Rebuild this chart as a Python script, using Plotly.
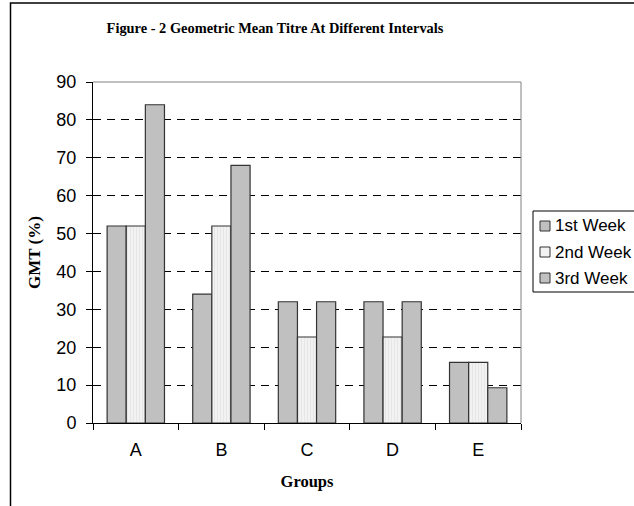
import plotly.graph_objects as go

groups = ["A", "B", "C", "D", "E"]
week1 = [52, 34, 32, 32, 16]
week2 = [52, 52, 22.7, 22.7, 16]
week3 = [84, 68, 32, 32, 9.3]
series_names = ["1st Week", "2nd Week", "3rd Week"]

L, R, T, B, W, H = 93, 521, 82, 423, 634, 506
pw, ph = R - L, B - T

fig = go.Figure()
fills = ["#C0C0C0", "#F2F2F2", "#C0C0C0"]
styles = [
    dict(color=fills[0]),
    dict(color=fills[1], pattern=dict(shape="|", fgcolor="#D8D8D8", bgcolor=fills[1], size=3, solidity=0.3)),
    dict(color=fills[2]),
]
for name, vals, st in zip(series_names, [week1, week2, week3], styles):
    fig.add_trace(go.Bar(x=groups, y=vals, name=name, showlegend=False,
                         marker=dict(**st, line=dict(color="#333333", width=1.2))))

fig.update_layout(
    width=W, height=H,
    margin=dict(l=L, r=W - R, t=T, b=H - B, autoexpand=False),
    paper_bgcolor="white", plot_bgcolor="white",
    barmode="group", bargap=0.33, bargroupgap=0,
    title=dict(text="<b>Figure - 2 Geometric Mean Titre At Different Intervals</b>",
               font=dict(family="Liberation Serif", size=14.4, color="black"),
               x=275 / W, xanchor="center", y=1 - 28 / H, yanchor="middle"),
    font=dict(family="Liberation Sans", size=18, color="black"),
    showlegend=False,
)
fig.update_xaxes(
    showline=True, linecolor="black", linewidth=1, mirror=False,
    ticks="outside", tickson="boundaries", ticklen=6, tickcolor="black",
    ticklabelstandoff=10,
    tickfont=dict(size=18),
    title=dict(text="<b>Groups</b>", font=dict(family="Liberation Serif", size=16.5), standoff=16),
    showgrid=False,
)
fig.update_yaxes(
    range=[0, 90], dtick=10, showline=True, linecolor="black", linewidth=1,
    ticks="outside", ticklen=6, tickcolor="black", ticklabelstandoff=6,
    tickfont=dict(size=18),
    showgrid=True, gridcolor="black", griddash="8px,6px", gridwidth=1,
    title=dict(text="<b>GMT (%)</b>", font=dict(family="Liberation Serif", size=17), standoff=11),
    zeroline=False,
)
# plot border top/right in gray
fig.add_shape(type="line", xref="paper", yref="paper", x0=0, x1=1, y0=1, y1=1,
              line=dict(color="#808080", width=1))
fig.add_shape(type="line", xref="paper", yref="paper", x0=1, x1=1, y0=0, y1=1,
              line=dict(color="#808080", width=1))
# outer chart frame
fig.add_shape(type="rect", xref="paper", yref="paper",
              x0=(10.5 - L) / pw, x1=(W + 20 - L) / pw, y0=(B - H - 20) / ph, y1=(B - 3) / ph,
              line=dict(color="black", width=1.5), layer="below")

# legend box (drawn manually to match compact layout)
def px(x):
    return (x - L) / pw

def py(y):
    return (B - y) / ph

fig.add_shape(type="rect", xref="paper", yref="paper",
              x0=px(533), x1=px(W + 10), y0=py(292), y1=py(211),
              line=dict(color="black", width=1), fillcolor="white")
for i, name in enumerate(series_names):
    yc = 226 + i * 26
    fig.add_shape(type="rect", xref="paper", yref="paper",
                  x0=px(540), x1=px(550), y0=py(yc + 5), y1=py(yc - 5),
                  line=dict(color="#333333", width=1), fillcolor=fills[i])
    fig.add_annotation(xref="paper", yref="paper", x=px(553), y=py(yc),
                       xanchor="left", yanchor="middle", text=name, showarrow=False,
                       font=dict(family="Liberation Sans", size=17, color="black"))

fig.write_html("out.html", config={"displayModeBar": False},
               post_script="document.body.style.margin='0';document.body.style.overflow='hidden';")
